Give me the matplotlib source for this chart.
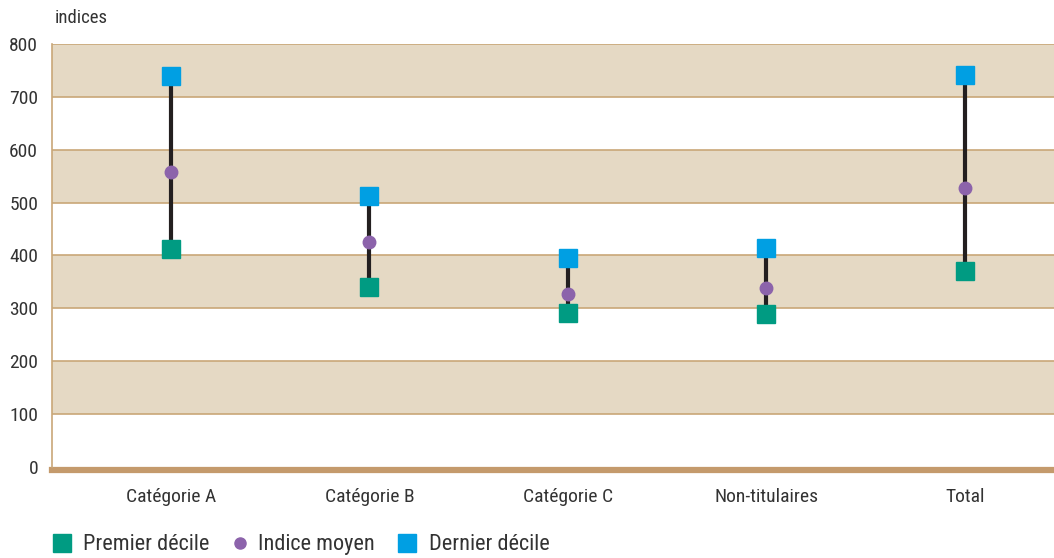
import numpy as np
import matplotlib.pyplot as plt
from matplotlib.lines import Line2D

categories = ["Catégorie A", "Catégorie B", "Catégorie C", "Non-titulaires", "Total"]
premier_decile = [413, 341, 292, 290, 371]
indice_moyen = [557, 426, 328, 339, 528]
dernier_decile = [740, 513, 396, 415, 742]
y_ticks = [0, 100, 200, 300, 400, 500, 600, 700, 800]
legend_labels = ["Premier décile", "Indice moyen", "Dernier décile"]

plt.rcParams['font.family'] = ['Roboto Condensed', 'DejaVu Sans']
text_col = '#333333'
band_col = '#e5d9c4'
grid_col = '#c9a778'
green = '#009b82'
purple = '#8c63ab'
blue = '#009fe3'

W, H = 1054, 558
fig = plt.figure(figsize=(W / 100, H / 100), dpi=100)
ax = fig.add_axes([52 / W, 1 - 467 / H, 1 - 52 / W, (467 - 44) / H])

x = np.arange(len(categories))
ax.set_xlim(-0.6, 4.45)
ax.set_ylim(0, 800)

# alternating bands
for lo in [100, 300, 500, 700]:
    ax.axhspan(lo, lo + 100, color=band_col, lw=0, zorder=0)
for t in y_ticks[1:]:
    ax.axhline(t, color=grid_col, lw=1.2, zorder=1)
# thick base line, sitting just under zero
ax.axhline(-6, color='#c49a6c', lw=4.5, zorder=1, clip_on=False)

ax.vlines(x, premier_decile, dernier_decile, color='#231f20', lw=3, zorder=2)
ax.plot(x, premier_decile, 's', color=green, ms=13, zorder=3, ls='none')
ax.plot(x, indice_moyen, 'o', color=purple, ms=9, zorder=3, ls='none')
ax.plot(x, dernier_decile, 's', color=blue, ms=13, zorder=3, ls='none')

ax.set_xticks(x)
ax.set_xticklabels(categories)
ax.set_yticks(y_ticks)
ax.tick_params(length=0, labelsize=14, colors=text_col)
ax.tick_params(axis='y', pad=10)
ax.tick_params(axis='x', pad=15)
for s in ['top', 'right', 'bottom']:
    ax.spines[s].set_visible(False)
ax.spines['left'].set_color(grid_col)
ax.spines['left'].set_linewidth(1.2)

fig.text(55 / W, 1 - 18 / H, "indices", fontsize=13.5, color=text_col, va='center')

# legend, placed by hand
leg_y = 1 - 543 / H
leg_items = [
    ('s', green, 13, 61.5, 83),
    ('o', purple, 8, 240, 258),
    ('s', blue, 13, 407, 429),
]
for (mk, col, ms, mx, tx), lab in zip(leg_items, legend_labels):
    fig.add_artist(Line2D([mx / W], [leg_y], marker=mk, color=col, ms=ms,
                          ls='none', transform=fig.transFigure))
    fig.text(tx / W, leg_y - 0.003, lab, fontsize=16, color=text_col, va='center')

fig.savefig('out.png', dpi=100)
